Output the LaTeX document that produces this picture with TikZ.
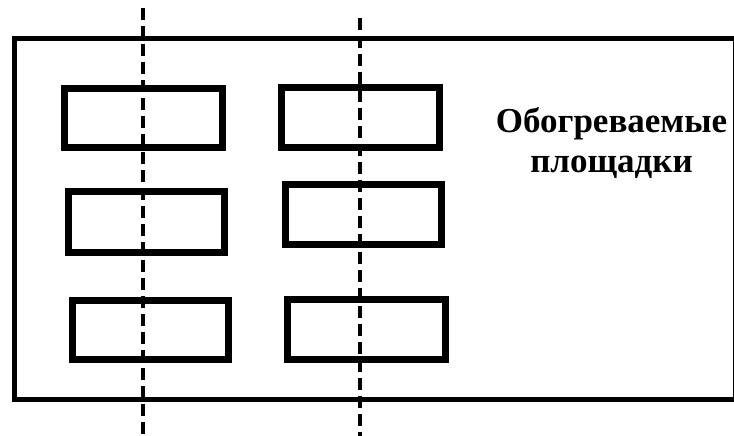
\documentclass[tikz,border=0pt]{standalone}
\usepackage{fontspec}
\setmainfont{Liberation Serif}
\usetikzlibrary{positioning}
\tikzset{
  pad/.style={line width=7pt},
  cutline/.style={line width=3.5pt, dash pattern=on 12pt off 6pt},
  padlabel/.style={font=\bfseries\fontsize{35}{40}\selectfont, align=center, inner sep=0pt}
}

\begin{document}
\begin{tikzpicture}[x=1pt,y=-1pt]
  \useasboundingbox (0,0) rectangle (734,436);
  % outer slab, right side runs off the page
  \draw[line width=5pt] (14,39) rectangle (735,399);
  % heated pads, two columns of three
  \foreach \xa/\ya/\xb/\yb in {64.5/88.5/222.5/147, 281.5/88/439/147,
      68/191.5/224/252, 285/184/441.5/244, 72/300/228/359, 287.5/299/445.5/359}{
    \draw[pad] (\xa,\ya) rectangle (\xb,\yb);
  }
  % section lines
  \coordinate (c1top) at (143,8);
  \coordinate (c1bot) at (143,436);
  \coordinate (c2top) at (360,18);
  \coordinate (c2bot) at (360,436);
  \draw[cutline] (c1top) -- (c1bot);
  \draw[cutline] (c2top) -- (c2bot);
  \node[padlabel] (lbl) at (611.5,143) {Обогреваемые\\площадки};
\end{tikzpicture}
\end{document}
